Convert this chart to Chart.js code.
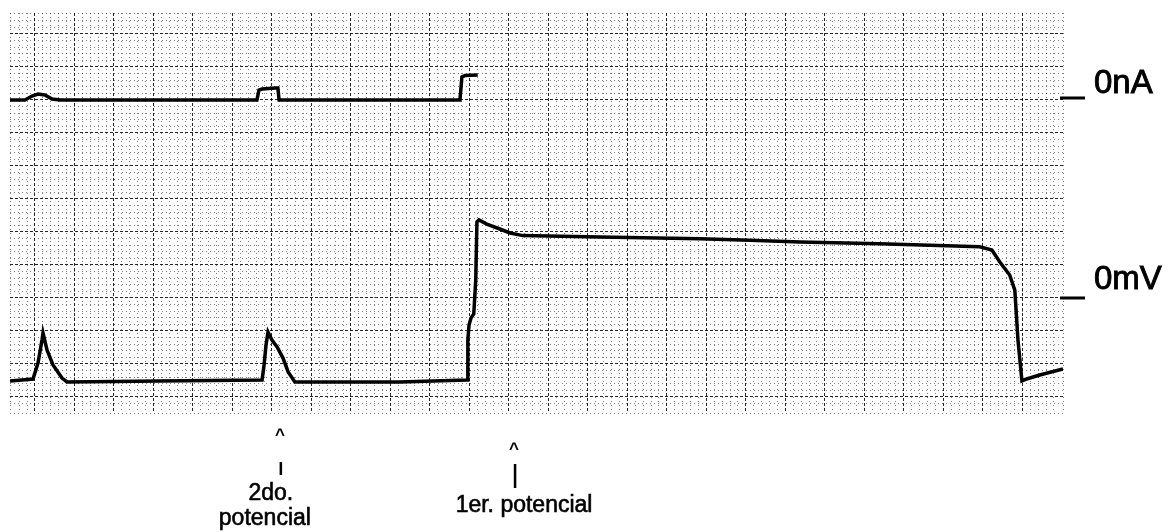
<!DOCTYPE html>
<html>
<head>
<meta charset="utf-8">
<script src="https://cdn.jsdelivr.net/npm/chart.js@4/dist/chart.umd.min.js"></script>
<style>
  html, body { margin: 0; padding: 0; background: #fff; }
  #wrap { width: 1174px; height: 532px; position: relative; }
</style>
</head>
<body>
<div id="wrap"><canvas id="trace"></canvas></div>
<script>
// time axis in chart divisions, current in nA, voltage in mV (20 mV per division)
const timeCurrent = [0.367, 0.747, 0.924, 1.076, 1.253, 1.430, 1.633, 6.62, 6.67, 6.75, 7.08, 7.15, 7.18, 7.71, 11.76, 11.81, 11.89, 12.21];
const currentNA  = [0, 0, 0.12, 0.18, 0.15, 0.03, 0, 0, 0.30, 0.33, 0.36, 0.36, 0, 0, 0, 0.70, 0.74, 0.76];

const timeVoltage = [0.367, 0.949, 1.076, 1.177, 1.203, 1.304, 1.456, 1.684, 1.81, 4.16,
  6.75, 6.80, 6.85, 6.90, 7.00, 7.13, 7.28, 7.41, 7.58, 10.24,
  11.94, 11.96, 11.99, 12.04, 12.11, 12.16, 12.19, 12.24, 12.44, 12.77, 13.03, 13.35,
  15.30, 17.84, 19.10, 20.37, 22.39, 24.92, 25.23, 25.43, 25.68, 25.81, 25.89, 25.99,
  26.11, 26.44, 27.03];
const voltageMV = [-50.3, -49.1, -39.4, -25.5, -21.2, -31.5, -40.6, -48.5, -50.9, -50.3,
  -49.7, -40.6, -28.5, -20.6, -25.5, -29.7, -36.4, -44.8, -50.9, -50.9,
  -49.7, -25.5, -16.4, -12.1, -9.7, 10.9, 46.1, 47.3, 44.8, 41.8, 39.4, 37.8,
  37.0, 35.9, 35.0, 34.0, 32.8, 31.0, 29.1, 21.8, 13.9, 4.8, -25.5, -50.3,
  -49.1, -46.7, -43.0];

const zeroLabels = ['0nA', '0mV'];
const markTimes = [7.20, 13.13];
const markLabels = [['2do.', 'potencial'], ['1er. potencial']];

const toPoints = (xs, ys) => xs.map((x, i) => ({ x: x, y: ys[i] }));

const isMajor = (v, unit) => Math.abs(v / unit - Math.round(v / unit)) < 1e-6;

// draws text slightly heavier, like the scanned print
const inkText = (ctx, txt, x, y) => {
  ctx.fillText(txt, x, y);
  ctx.strokeText(txt, x, y);
};

const annotations = {
  id: 'annotations',
  afterDraw(chart) {
    const ctx = chart.ctx;
    const area = chart.chartArea;
    const x = chart.scales.x;
    const zeroI = chart.scales.yI.getPixelForValue(0);
    const zeroV = chart.scales.y.getPixelForValue(0);

    ctx.save();
    ctx.fillStyle = '#000';
    ctx.strokeStyle = '#000';

    // zero reference ticks on the right
    ctx.lineWidth = 3;
    [zeroI - 2, zeroV].forEach(py => {
      ctx.beginPath();
      ctx.moveTo(area.right - 3, py);
      ctx.lineTo(area.right + 22, py);
      ctx.stroke();
    });
    ctx.lineWidth = 0.9;
    ctx.font = '33px "Liberation Sans", Arial, sans-serif';
    ctx.textAlign = 'left';
    ctx.textBaseline = 'alphabetic';
    inkText(ctx, zeroLabels[0], area.right + 31, zeroI - 7);
    inkText(ctx, zeroLabels[1], area.right + 31, zeroV - 9);

    // markers under the trace
    const p2 = x.getPixelForValue(markTimes[0]);
    const p1 = x.getPixelForValue(markTimes[1]);
    ctx.textAlign = 'center';
    ctx.font = 'bold 17px "Liberation Sans", Arial, sans-serif';
    ctx.fillText('^', p2, 440);
    ctx.fillText('^', p1, 454);

    ctx.lineWidth = 2.5;
    ctx.beginPath();
    ctx.moveTo(p2 + 1, 462); ctx.lineTo(p2 + 1, 475);
    ctx.moveTo(p1 + 1, 464); ctx.lineTo(p1 + 1, 488);
    ctx.stroke();

    ctx.lineWidth = 0.6;
    ctx.font = '23px "Liberation Sans", Arial, sans-serif';
    inkText(ctx, markLabels[0][0], p2 - 9, 500);
    inkText(ctx, markLabels[0][1], p2 - 15, 525);
    inkText(ctx, markLabels[1][0], p1 + 10, 512);
    ctx.restore();
  }
};

const gridColor = unit => c => isMajor(c.tick.value, unit) ? 'rgba(0,0,0,0.85)' : 'rgba(0,0,0,0.5)';
const gridDash = unit => c => isMajor(c.tick.value, unit) ? [3, 2] : [1, 3];

new Chart(document.getElementById('trace'), {
  type: 'line',
  data: {
    datasets: [
      {
        label: 'I',
        data: toPoints(timeCurrent, currentNA),
        yAxisID: 'yI',
        borderColor: '#000',
        borderWidth: 3.5,
        pointRadius: 0,
        tension: 0
      },
      {
        label: 'V',
        data: toPoints(timeVoltage, voltageMV),
        yAxisID: 'y',
        borderColor: '#000',
        borderWidth: 3.5,
        pointRadius: 0,
        tension: 0
      }
    ]
  },
  options: {
    responsive: true,
    maintainAspectRatio: false,
    animation: false,
    layout: { padding: { left: 10, top: 13, right: 111, bottom: 119 } },
    plugins: { legend: { display: false }, tooltip: { enabled: false } },
    scales: {
      x: {
        type: 'linear',
        min: 0.367,
        max: 27.03,
        ticks: { display: false, stepSize: 0.2 },
        grid: { drawTicks: false, color: gridColor(1), lineWidth: 1 },
        border: { display: false, dash: gridDash(1) }
      },
      y: {
        min: -69.7,
        max: 172.7,
        ticks: { display: false, stepSize: 4 },
        grid: { drawTicks: false, color: gridColor(20), lineWidth: 1 },
        border: { display: false, dash: gridDash(20) }
      },
      yI: {
        display: false,
        min: -9.485,
        max: 2.636
      }
    }
  },
  plugins: [annotations]
});
</script>
</body>
</html>
